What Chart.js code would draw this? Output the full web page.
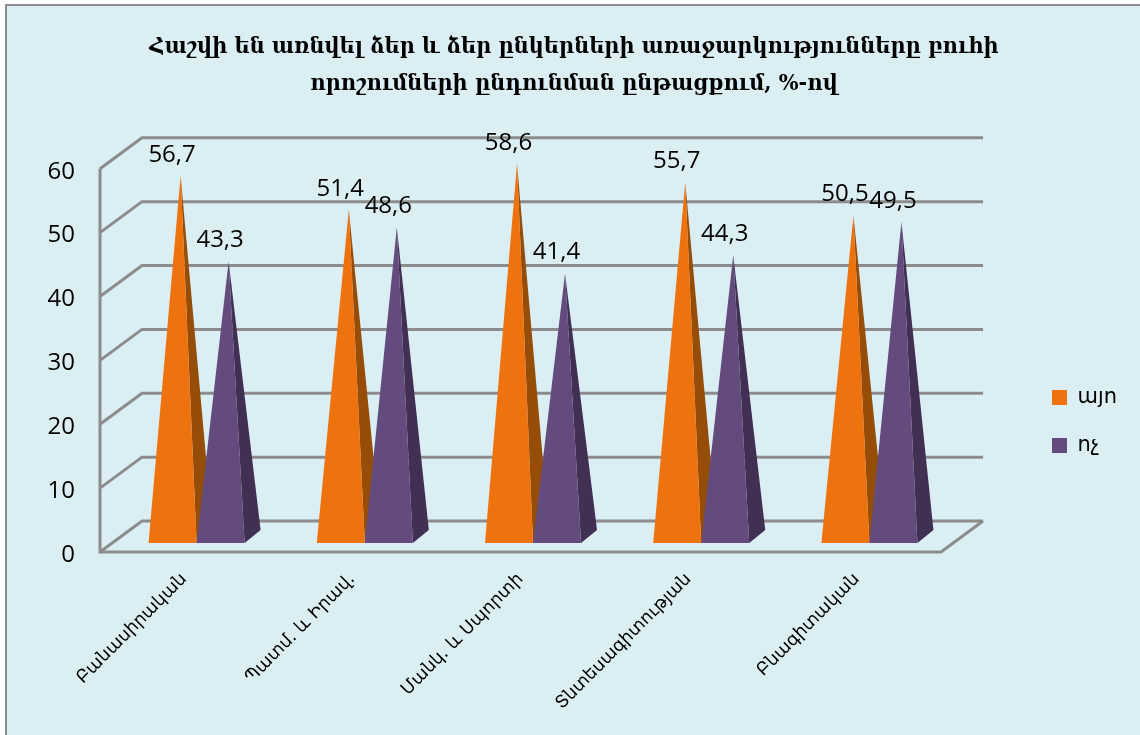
<!DOCTYPE html>
<html>
<head>
<meta charset="utf-8">
<title>chart</title>
<script src="https://cdn.jsdelivr.net/npm/chart.js@4"></script>
<style>
  html, body { margin: 0; padding: 0; background: #fff; overflow: hidden; }
  #frame { position: absolute; left: 5px; top: 4px; width: 1150px; height: 750px; background: #daeef3; border: 2px solid #8c8c8c; }
  #box { position: absolute; left: 0; top: 0; width: 1140px; height: 735px; }
</style>
</head>
<body>
<div id="frame"></div>
<div id="box"><canvas id="myChart" width="1140" height="735"></canvas></div>
<script>
'use strict';

var titleLines = ['Հաշվի են առնվել ձեր և ձեր ընկերների առաջարկությունները բուհի', 'որոշումների ընդունման ընթացքում, %-ով'];
var categories = ['Բանասիրական', 'Պատմ. և Իրավ.', 'Մանկ. և Սպորտի', 'Տնտեսագիտության', 'Բնագիտական'];
var yesValues = [56.7, 51.4, 58.6, 55.7, 50.5];
var noValues = [43.3, 48.6, 41.4, 44.3, 49.5];
var yTicks = [0, 10, 20, 30, 40, 50, 60];

var orange = '#ee720d';
var orangeSide = '#964d07';
var purple = '#644b7e';
var purpleSide = '#423054';
var wallColor = '#8c8c8c';

// depth of the fake 3d box, back wall sits this far from the axis
var depthX = 42;
var depthY = 31;

function polygon(ctx, pts, color) {
    ctx.fillStyle = color;
    ctx.beginPath();
    ctx.moveTo(pts[0][0], pts[0][1]);
    for (var i = 1; i < pts.length; i++) {
        ctx.lineTo(pts[i][0], pts[i][1]);
    }
    ctx.closePath();
    ctx.fill();
}

// bar controller, only the drawing is different
class PyramidController extends Chart.BarController {
    // chart.js paints the last dataset first, the purple one has to go on top,
    // so the plugin below calls drawPyramids in dataset order
    draw() {}
    drawPyramids() {
        var ctx = this.chart.ctx;
        var ds = this.getDataset();
        var meta = this.getMeta();
        var yScale = this.chart.scales.y;
        var floor = yScale.getPixelForValue(0) - 9;
        for (var i = 0; i < meta.data.length; i++) {
            var bar = meta.data[i];
            var mid = bar.x + 12.5;
            var half = bar.width / 2;
            var apex = [mid + 8, bar.y - 14];
            polygon(ctx, [[mid + half, floor], [mid + half + 16, floor - 13], apex], ds.sideColor);
            polygon(ctx, [[mid - half, floor], [mid + half, floor], apex], ds.backgroundColor);
        }
    }
}
PyramidController.id = 'pyramid';
PyramidController.defaults = Chart.BarController.defaults;
PyramidController.overrides = Chart.BarController.overrides;
Chart.register(PyramidController);

var walls = {
    id: 'walls',
    afterLayout: function (chart) {
        // legend sits lower and further right than the layout would put it
        var lg = chart.legend;
        var w = lg.width;
        lg.left = 1052 - lg.options.labels.padding;
        lg.right = lg.left + w;
        lg.top = 360;
        lg.bottom = lg.top + 140;
        // title is centred on the whole frame, not on the space left of the legend
        chart.titleBlock.left = 8;
        chart.titleBlock.right = 1140;
    },
    beforeDatasetsDraw: function (chart) {
        var ctx = chart.ctx;
        var x = chart.scales.x;
        var y = chart.scales.y;
        ctx.save();
        ctx.strokeStyle = wallColor;
        ctx.lineWidth = 3;
        ctx.beginPath();
        yTicks.forEach(function (t) {
            var py = y.getPixelForValue(t);
            ctx.moveTo(x.left, py);
            ctx.lineTo(x.left + depthX, py - depthY);
            ctx.lineTo(x.right + depthX, py - depthY);
        });
        ctx.moveTo(x.left, y.top);
        ctx.lineTo(x.left, y.bottom);
        ctx.lineTo(x.right, y.bottom);
        ctx.lineTo(x.right + depthX, y.bottom - depthY);
        ctx.stroke();
        ctx.restore();
    },
    afterDatasetsDraw: function (chart) {
        var ctx = chart.ctx;
        chart.data.datasets.forEach(function (ds, d) {
            chart.getDatasetMeta(d).controller.drawPyramids();
        });
        ctx.save();
        ctx.fillStyle = '#000';
        ctx.font = '24px "Open Sans"';
        ctx.textAlign = 'center';
        ctx.textBaseline = 'middle';
        chart.data.datasets.forEach(function (ds, d) {
            chart.getDatasetMeta(d).data.forEach(function (bar, i) {
                ctx.fillText(String(ds.data[i]).replace('.', ','), bar.x + 12, bar.y - 35);
            });
        });
        ctx.restore();
    }
};

var ctx = document.getElementById('myChart').getContext('2d');
var chart = new Chart(ctx, {
    type: 'pyramid',
    plugins: [walls],
    data: {
        labels: categories,
        datasets: [
            { label: 'այո', data: yesValues, backgroundColor: orange, sideColor: orangeSide, categoryPercentage: 0.571, barPercentage: 1 },
            { label: 'ոչ', data: noValues, backgroundColor: purple, sideColor: purpleSide, categoryPercentage: 0.571, barPercentage: 1 }
        ]
    },
    options: {
        responsive: false,
        animation: false,
        layout: { padding: { right: 97 } },
        plugins: {
            title: {
                display: true,
                text: titleLines,
                color: '#000',
                font: { family: '"DejaVu Serif Condensed", "DejaVu Serif"', size: 23.2, weight: 'bold', lineHeight: 1.59 },
                padding: { top: 29, bottom: 66 }
            },
            legend: {
                position: 'right',
                align: 'start',
                labels: {
                    boxWidth: 15,
                    boxHeight: 15,
                    padding: 27,
                    color: '#000',
                    font: { family: '"DejaVu Sans"', size: 21 }
                }
            },
            tooltip: { enabled: false }
        },
        scales: {
            x: {
                grid: { display: false },
                border: { display: false },
                afterFit: function (s) { s.height = 183; },
                ticks: {
                    minRotation: 45,
                    maxRotation: 45,
                    padding: 9,
                    color: '#000',
                    font: { family: '"DejaVu Sans"', size: 17.5 }
                }
            },
            y: {
                min: 0,
                max: 60,
                grid: { display: false, drawTicks: false },
                border: { display: false },
                afterFit: function (s) { s.width = 100; },
                ticks: {
                    stepSize: 10,
                    padding: 25,
                    labelOffset: 3,
                    color: '#000',
                    font: { family: '"Open Sans"', size: 24 }
                }
            }
        }
    }
});
</script>
</body>
</html>
